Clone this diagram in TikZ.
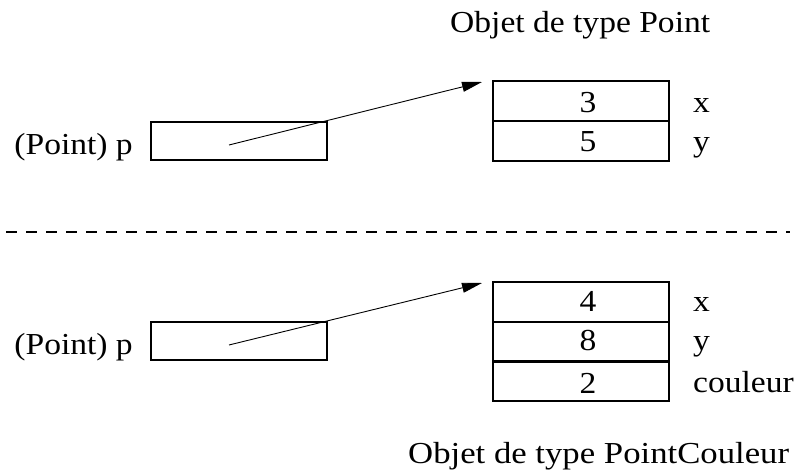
\documentclass[tikz,border=0pt]{standalone}
\usepackage{fontspec}
\setmainfont[FakeStretch=1.1]{Liberation Serif}
\usetikzlibrary{arrows.meta}

\tikzset{
  txt/.style={inner sep=0pt, font=\fontsize{30.5}{36}\selectfont},
  cell/.style={draw, line width=1.6pt, rectangle, inner sep=0pt,
               minimum width=176pt, minimum height=40pt, anchor=north west},
  ptrbox/.style={draw, line width=1.6pt, rectangle, inner sep=0pt,
                 minimum width=176pt, minimum height=38pt, anchor=north west},
  ref/.style={line width=0.9pt, -{Triangle[length=20pt, width=10pt]}},
  sep/.style={line width=1.3pt, dash pattern=on 11pt off 9pt}
}

\begin{document}
\begin{tikzpicture}[x=1pt, y=-1pt]
  \useasboundingbox (0,0) rectangle (804,473);

  % --- upper half: a Point referenced by a Point variable
  \node[txt, anchor=base west] (t1) at (450,33) {Objet de type Point};

  \node[txt, anchor=base east] (v1) at (133,155) {(Point) p};
  \node[ptrbox] (p1) at (150,121) {};
  \coordinate (s1) at (229,145);

  \node[cell] (a1) at (492,80) {};
  \node[cell] (a2) at (492,120) {};
  \node[txt, anchor=base] (a1v) at (588,113) {3};
  \node[txt, anchor=base] (a2v) at (588,152) {5};
  \node[txt, anchor=base west] (a1n) at (693,113) {x};
  \node[txt, anchor=base west] (a2n) at (693,152) {y};
  \coordinate (e1) at (482,82);

  \draw[ref] (s1) -- (e1);

  % --- separator
  \coordinate (d0) at (6,232);
  \coordinate (d1) at (790,232);
  \draw[sep] (d0) -- (d1);

  % --- lower half: a PointCouleur referenced by a Point variable
  \node[txt, anchor=base east] (v2) at (133,355) {(Point) p};
  \node[ptrbox] (p2) at (150,321) {};
  \coordinate (s2) at (229,345);

  \node[cell] (b1) at (492,281) {};
  \node[cell] (b2) at (492,321) {};
  \node[cell] (b3) at (492,360) {};
  \node[txt, anchor=base] (b1v) at (588,312) {4};
  \node[txt, anchor=base] (b2v) at (588,351) {8};
  \node[txt, anchor=base] (b3v) at (588,393) {2};
  \node[txt, anchor=base west] (b1n) at (693,312) {x};
  \node[txt, anchor=base west] (b2n) at (693,351) {y};
  \node[txt, anchor=base west] (b3n) at (693,392) {couleur};
  \coordinate (e2) at (482,283);

  \draw[ref] (s2) -- (e2);

  \node[txt, anchor=base west] (t2) at (408,463)
    {\scalebox{1.035}[1]{Objet de type PointCouleur}};
\end{tikzpicture}
\end{document}
